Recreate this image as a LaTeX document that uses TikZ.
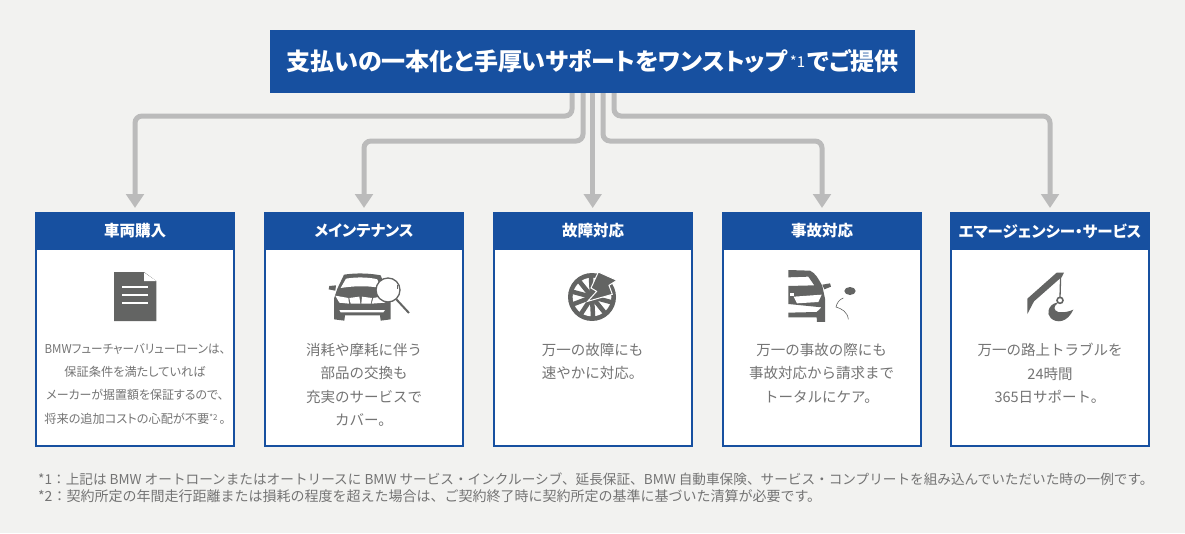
\documentclass[tikz,border=0pt]{standalone}
\usepackage{fontspec}
\setmainfont{Noto Sans CJK JP}
\newfontfamily\palt[RawFeature=+palt]{Noto Sans CJK JP}
\usetikzlibrary{arrows.meta,calc}
\definecolor{bgc}{HTML}{F2F2F0}
\definecolor{bluec}{HTML}{1750A0}
\definecolor{linec}{HTML}{BBBBBB}
\definecolor{textc}{HTML}{747474}
\definecolor{iconc}{HTML}{636463}
\newcommand{\fs}[2]{\fontsize{#1pt}{#2pt}\selectfont}
\newcommand{\headtxt}[1]{\raisebox{-2pt}{#1}}
\tikzset{
  x=1pt,y=-1pt,
  titlebox/.style={fill=bluec,draw=none,minimum width=645pt,minimum height=63pt,anchor=north west,inner sep=0pt,outer sep=0pt,text=white,font=\palt\bfseries\fs{24}{28}},
  cardbox/.style={fill=white,draw=bluec,line width=2.4pt,minimum width=197.6pt,minimum height=232.6pt,anchor=north west,inner sep=0pt,outer sep=1.2pt},
  cardhead/.style={fill=bluec,draw=none,minimum width=200pt,minimum height=38pt,anchor=north west,inner sep=0pt,outer sep=0pt,text=white,font=\palt\bfseries\fs{15.5}{18}},
  cardtext/.style={anchor=north,align=center,inner sep=0pt,text=textc,font=\fs{14.5}{23.4}},
  smalltext/.style={anchor=north,align=center,inner sep=0pt,text=textc,font=\palt\fs{12.2}{23.4}},
  notetext/.style={anchor=base west,inner sep=0pt,text=textc},
  conn/.style={draw=linec,line width=5pt,rounded corners=7pt,-{Triangle[width=17.5pt,length=14pt]},shorten >=4pt},
  zoomed/.style 2 args={xshift=#1pt,yshift=-#2pt,x=0.3333pt,y=-0.3333pt},
}
\begin{document}
\begin{tikzpicture}
\useasboundingbox (0,0) rectangle (1185,533);
\fill[bgc] (0,0) rectangle (1185,533);

\node[titlebox] (top) at (270,30) {\raisebox{-3pt}{支払いの一本化と手厚いサポートをワンストップ{\mdseries\fs{15}{15}\raisebox{3pt}{\,*1\,}}でご提供}};

\node[cardbox] (b1) at (35,212) {};
\node[cardbox] (b2) at (264,212) {};
\node[cardbox] (b3) at (493,212) {};
\node[cardbox] (b4) at (722,212) {};
\node[cardbox] (b5) at (950,212) {};
\node[cardhead] (h1) at (35,212) {\headtxt{車両購入}};
\node[cardhead] (h2) at (264,212) {\headtxt{メインテナンス}};
\node[cardhead] (h3) at (493,212) {\headtxt{故障対応}};
\node[cardhead] (h4) at (722,212) {\headtxt{事故対応}};
\node[cardhead] (h5) at (950,212) {\headtxt{エマージェンシー・サービス}};

\coordinate (s1) at (572,93);
\coordinate (s2) at (583,93);
\coordinate (s3) at (592.7,93);
\coordinate (s4) at (603,93);
\coordinate (s5) at (614,93);
\coordinate (lev1) at (0,116);
\coordinate (lev2) at (0,141);
\draw[conn] (s1) -- (s1 |- lev1) -| (h1.north);
\draw[conn] (s2) -- (s2 |- lev2) -| (h2.north);
\draw[conn] (s3) -- (s3 |- h3.north);
\draw[conn] (s4) -- (s4 |- lev2) -| (h4.north);
\draw[conn] (s5) -- (s5 |- lev1) -| (h5.north);

% texts
\node[smalltext] (t1) at (135,343) {\scalebox{0.95}[1]{BMWフューチャーバリューローンは、}\\保証条件を満たしていれば\\\scalebox{0.98}[1]{メーカーが据置額を保証するので、}\\将来の追加コストの心配が不要{\fs{8}{8}\raisebox{3pt}{*2}}\,。};
\node[cardtext] (t2) at (364,343) {消耗や摩耗に伴う\\部品の交換も\\充実のサービスで\\カバー。};
\node[cardtext] (t3) at (592.5,343) {万一の故障にも\\速やかに対応。};
\node[cardtext] (t4) at (821.5,343) {万一の事故の際にも\\事故対応から請求まで\\トータルにケア。};
\node[cardtext] (t5) at (1050,343) {万一の路上トラブルを\\24時間\\365日サポート。};

\node[notetext,font=\fs{13.63}{18}] (n1) at (38,484) {*1：上記は BMW オートローンまたはオートリースに BMW サービス・インクルーシブ、延長保証、BMW 自動車保険、サービス・コンプリートを組み込んでいただいた時の一例です。};
\node[notetext,font=\fs{14}{18}] (n2) at (38,501.5) {*2：契約所定の年間走行距離または損耗の程度を超えた場合は、ご契約終了時に契約所定の基準に基づいた清算が必要です。};

% document icon
\fill[iconc] (114,272) -- (144,272) -- (156.3,281) -- (156.3,321) -- (114,321) -- cycle;
\fill[white] (144,272.5) -- (156.3,281) -- (144,281) -- cycle;
\foreach \yy in {287,295,303}{\draw[white,line width=1.3pt] (122,\yy) -- (148,\yy);}

% car + magnifier
\begin{scope}[zoomed={320}{262}]
\fill[iconc] (72,38) .. controls (110,32) and (150,34) .. (182,40) -- (200,85) -- (212,110) -- (212,172) -- (182,176) -- (180,160) -- (75,160) -- (73,176) -- (42,172) -- (42,110) -- (52,80) -- cycle;
\fill[iconc] (48,70) -- (28,72) -- (26,82) -- (46,86) -- cycle;
\fill[white] (78,50) .. controls (110,44) and (150,46) .. (172,52) -- (182,78) .. controls (140,70) and (100,72) .. (62,78) -- cycle;
\fill[white] (46,101) -- (85,108) -- (87,125) -- (58,122) -- cycle;
\fill[white] (88,108) -- (118,104) -- (121,125) -- (92,125) -- cycle;
\fill[white] (126,104) -- (156,108) -- (152,125) -- (124,125) -- cycle;
\fill[white] (160,108) -- (205,100) -- (195,122) -- (155,125) -- cycle;
\fill[white] (58,144) -- (195,144) -- (190,151) -- (62,151) -- cycle;
\draw[iconc,line width=1.3pt,fill=white] (204,84) circle (36);
\draw[iconc,line width=1pt] (232,68) -- (232,80);
\draw[iconc,line width=2pt] (229,112) -- (267,153);
\end{scope}

% wheel + lightning
\begin{scope}[zoomed={555}{262}]
\fill[iconc] (111,105) circle (72);
\fill[white] (111,105) circle (58);
\foreach \aa in {0,36,...,324}{\draw[iconc,line width=4.5pt] (111,105) -- ++(\aa+15:60);}
\fill[iconc] (111,105) circle (18);
\fill[iconc,draw=white,line width=1pt] (130,30) -- (186,55) -- (162,70) -- (172,97) -- (98,118) -- (125,88) -- (108,78) -- cycle;
\end{scope}

% half car
\begin{scope}[zoomed={775}{262}]
\fill[iconc] (40,24) -- (105,26) .. controls (122,34) and (130,50) .. (142,72) -- (150,110) -- (150,180) -- (126,180) -- (125,166) -- (40,166) -- (40,152) -- (125,150) -- (140,136) -- (40,126) -- (40,72) -- (118,70) -- (100,44) -- (40,46) -- cycle;
\fill[iconc] (142,68) -- (165,64) -- (168,74) -- (148,82) -- cycle;
\fill[white] (46,93) -- (58,93) -- (58,102) -- (46,102) -- cycle;
\fill[white] (56,104) -- (140,98) -- (130,120) -- (66,124) -- cycle;
\fill[iconc] (225,87) ellipse (17 and 12);
\draw[iconc,line width=0.6pt] (205,108) .. controls (192,112) and (185,125) .. (183,135) .. controls (200,140) and (218,150) .. (220,172);
\end{scope}

% hook
\begin{scope}[zoomed={1010}{262}]
\fill[iconc] (52,110) -- (140,32) -- (162,32) -- (156,44) -- (72,118) -- (52,156) -- cycle;
\draw[iconc,line width=1.3pt] (152,40) -- (150,106);
\fill[iconc] (140,122) .. controls (115,128) and (108,155) .. (122,168) .. controls (140,185) and (172,182) .. (190,143) .. controls (175,150) and (160,152) .. (145,150) .. controls (130,146) and (130,132) .. (142,125) -- cycle;
\draw[iconc,line width=1.6pt,fill=white] (150,115) circle (9);
\end{scope}
\end{tikzpicture}
\end{document}
